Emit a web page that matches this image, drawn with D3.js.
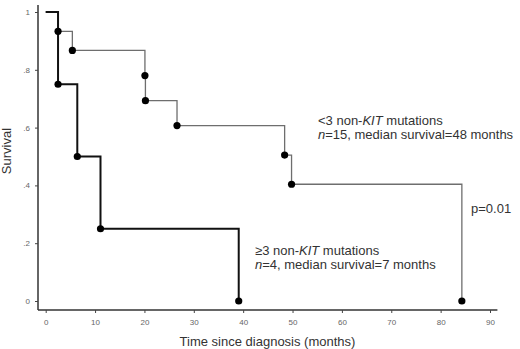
<!DOCTYPE html>
<html>
<head>
<meta charset="utf-8">
<script src="https://cdn.jsdelivr.net/npm/d3@7"></script>
<style>
  body { margin: 0; background: #fff; }
  svg { display: block; font-family: "Liberation Sans", Arial, sans-serif; }
</style>
</head>
<body>
<div id="chart"></div>
<script>
// Kaplan-Meier data
const lowTimes = [0, 2.5, 5.4, 20.1, 20.2, 26.6, 48.4, 49.8, 84.3];
const lowSurv = [1, 0.933, 0.867, 0.780, 0.693, 0.607, 0.505, 0.404, 0];
const highTimes = [0, 2.5, 6.4, 11.1, 39.1];
const highSurv = [1, 0.75, 0.5, 0.25, 0];
const xTicks = [0, 10, 20, 30, 40, 50, 60, 70, 80, 90];
const yTicks = [0, 0.2, 0.4, 0.6, 0.8, 1];
const yTickLabels = ['0', '.2', '.4', '.6', '.8', '1'];

const width = 520;
const height = 349;

const svg = d3.select('#chart')
    .append('svg')
    .attr('width', width)
    .attr('height', height);

const x = d3.scaleLinear().domain([0, 90]).range([45.7, 490]);
const y = d3.scaleLinear().domain([0, 1]).range([301, 12]);

// axes lines (extend a little past the data range like the original)
svg.append('line')
    .attr('x1', x(-1.56)).attr('x2', x(91.5))
    .attr('y1', 310).attr('y2', 310)
    .attr('stroke', '#333').attr('stroke-width', 1.5);
svg.append('line')
    .attr('x1', 38).attr('x2', 38)
    .attr('y1', y(1.024)).attr('y2', 310)
    .attr('stroke', '#333').attr('stroke-width', 1.5);

const xAxis = svg.append('g')
    .attr('transform', 'translate(0,310)')
    .call(d3.axisBottom(x).tickValues(xTicks).tickSize(3).tickPadding(6));
xAxis.select('.domain').remove();
xAxis.selectAll('line').attr('stroke', '#444');
xAxis.selectAll('text').attr('fill', '#666').style('font-size', '8px');

const yAxis = svg.append('g')
    .attr('transform', 'translate(38,0)')
    .call(d3.axisLeft(y).tickValues(yTicks).tickSize(3).tickPadding(5)
        .tickFormat((d, i) => yTickLabels[i]));
yAxis.select('.domain').remove();
yAxis.selectAll('line').attr('stroke', '#444');
yAxis.selectAll('text').attr('fill', '#666').style('font-size', '8px');

// step path builder
function stepData(times, surv) {
    return times.map((t, i) => ({ t: t, s: surv[i] }));
}
const line = d3.line()
    .x(d => x(d.t))
    .y(d => y(d.s))
    .curve(d3.curveStepAfter);

const lowData = stepData(lowTimes, lowSurv);
const highData = stepData(highTimes, highSurv);

svg.append('path')
    .datum(lowData)
    .attr('fill', 'none')
    .attr('stroke', '#6e6e6e')
    .attr('stroke-width', 1.3)
    .attr('d', line);

svg.append('path')
    .datum(highData)
    .attr('fill', 'none')
    .attr('stroke', '#111')
    .attr('stroke-width', 2)
    .attr('d', line);

// event markers
svg.append('g')
    .selectAll('circle')
    .data(lowData.slice(1).concat(highData.slice(1)))
    .enter()
    .append('circle')
    .attr('cx', d => x(d.t))
    .attr('cy', d => y(d.s))
    .attr('r', 3.6)
    .attr('fill', '#000');

// annotations
function label(xp, yp, parts) {
    const t = svg.append('text')
        .attr('x', xp).attr('y', yp)
        .attr('fill', '#333')
        .style('font-size', '13px');
    parts.forEach(p => {
        t.append('tspan')
            .style('font-style', p[1] ? 'italic' : 'normal')
            .text(p[0]);
    });
}
label(318, 125, [['<3 non-', false], ['KIT', true], [' mutations', false]]);
label(318, 139, [['n', true], ['=15, median survival=48 months', false]]);
label(255, 255, [['\u22653 non-', false], ['KIT', true], [' mutations', false]]);
label(255, 269, [['n', true], ['=4, median survival=7 months', false]]);
label(471, 213, [['p=0.01', false]]);

svg.append('text')
    .attr('x', 267.5).attr('y', 345.5)
    .attr('text-anchor', 'middle')
    .attr('fill', '#333')
    .style('font-size', '13px')
    .text('Time since diagnosis (months)');

svg.append('text')
    .attr('transform', 'translate(11,151) rotate(-90)')
    .attr('text-anchor', 'middle')
    .attr('fill', '#333')
    .style('font-size', '13px')
    .text('Survival');
</script>
</body>
</html>
